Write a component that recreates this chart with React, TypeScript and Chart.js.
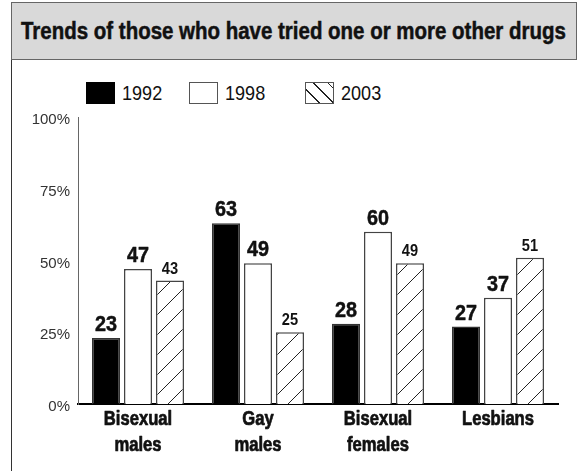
import React, { useEffect, useRef } from 'react';
import { Chart, registerables } from 'chart.js';

Chart.register(...registerables);

const TITLE = 'Trends of those who have tried one or more other drugs';
const categories = [['Bisexual', 'males'], ['Gay', 'males'], ['Bisexual', 'females'], ['Lesbians']];
const seriesNames = ['1992', '1998', '2003'];
const values1992 = [23, 63, 28, 27];
const values1998 = [47, 49, 60, 37];
const values2003 = [43, 25, 49, 51];
const yTicks = [0, 25, 50, 75, 100];

const SANS = '"Liberation Sans", Arial, sans-serif';

function makeHatch(ctx: CanvasRenderingContext2D, size: number) {
  const c = document.createElement('canvas');
  c.width = size;
  c.height = size;
  const g = c.getContext('2d')!;
  g.fillStyle = '#fff';
  g.fillRect(0, 0, size, size);
  g.strokeStyle = '#222';
  g.lineWidth = 1;
  g.beginPath();
  g.moveTo(0, size);
  g.lineTo(size, 0);
  g.moveTo(-2, 2);
  g.lineTo(2, -2);
  g.moveTo(size - 2, size + 2);
  g.lineTo(size + 2, size - 2);
  g.stroke();
  return ctx.createPattern(c, 'repeat');
}

function narrowText(ctx: CanvasRenderingContext2D, text: string, x: number, y: number, sx: number, heavy: number) {
  ctx.save();
  ctx.translate(x, y);
  ctx.scale(sx, 1);
  ctx.fillText(text, 0, 0);
  if (heavy > 0) {
    ctx.lineWidth = heavy;
    ctx.lineJoin = 'round';
    ctx.strokeText(text, 0, 0);
  }
  ctx.restore();
}

const valueLabels = {
  id: 'valueLabels',
  afterDatasetsDraw(chart: any) {
    const { ctx } = chart;
    chart.data.datasets.forEach((ds: any, i: number) => {
      const meta = chart.getDatasetMeta(i);
      const small = i === 2;
      ctx.save();
      ctx.font = `bold ${small ? 17 : 22}px ${SANS}`;
      ctx.fillStyle = '#111';
      ctx.strokeStyle = '#111';
      ctx.textAlign = 'center';
      ctx.textBaseline = 'alphabetic';
      meta.data.forEach((bar: any, j: number) => {
        narrowText(ctx, String(ds.data[j]), bar.x, bar.y - 7, small ? 0.86 : 0.9, small ? 0 : 0.5);
      });
      ctx.restore();
    });
  },
};

const categoryLabels = {
  id: 'categoryLabels',
  afterDraw(chart: any) {
    const { ctx, chartArea } = chart;
    const xs = chart.scales.x;
    ctx.save();
    ctx.font = `bold 20px ${SANS}`;
    ctx.fillStyle = '#111';
    ctx.strokeStyle = '#111';
    ctx.textAlign = 'center';
    ctx.textBaseline = 'alphabetic';
    (chart.data.labels as string[][]).forEach((lines, i) => {
      const x = xs.getPixelForTick(i);
      lines.forEach((ln, k) => {
        narrowText(ctx, ln, x, chartArea.bottom + 21 + k * 26, 0.83, 0.7);
      });
    });
    ctx.restore();
  },
};

export default function App() {
  const canvasRef = useRef<HTMLCanvasElement | null>(null);

  useEffect(() => {
    const canvas = canvasRef.current!;
    const ctx = canvas.getContext('2d')!;
    const hatch = makeHatch(ctx, 20);
    const chart = new Chart(canvas, {
      type: 'bar',
      data: {
        labels: categories,
        datasets: [
          { label: seriesNames[0], data: values1992, backgroundColor: '#000', borderColor: '#333', borderWidth: 1.5 },
          { label: seriesNames[1], data: values1998, backgroundColor: '#fff', borderColor: '#444', borderWidth: 1.5 },
          { label: seriesNames[2], data: values2003, backgroundColor: hatch as any, borderColor: '#444', borderWidth: 1.5 },
        ],
      },
      options: {
        animation: false,
        responsive: false,
        maintainAspectRatio: false,
        datasets: { bar: { categoryPercentage: 0.8, barPercentage: 0.875 } } as any,
        layout: { padding: { top: 16, right: 24, left: 0, bottom: 0 } },
        plugins: { legend: { display: false }, tooltip: { enabled: false }, title: { display: false } },
        scales: {
          x: {
            grid: { display: false, drawTicks: false },
            border: { display: true, color: '#000', width: 2 },
            ticks: { display: false, autoSkip: false },
            afterFit: (s: any) => { s.height = 67; },
          },
          y: {
            min: 0,
            max: 100,
            afterBuildTicks: (s: any) => { s.ticks = yTicks.map((v) => ({ value: v })); },
            ticks: {
              callback: (v: any) => v + '%',
              color: '#333',
              font: { family: SANS, size: 15 },
              padding: 8,
              labelOffset: 3,
            },
            grid: { display: false, drawTicks: false },
            border: { display: true, color: '#666', width: 1 },
            afterFit: (s: any) => { s.width = 66; },
          },
        },
      },
      plugins: [valueLabels, categoryLabels],
    });
    return () => chart.destroy();
  }, []);

  const boxBase: React.CSSProperties = {
    position: 'absolute',
    top: 0,
    width: 29,
    height: 22,
    boxSizing: 'border-box',
    border: '1px solid #555',
  };
  const boxBgs = [
    { background: '#000', border: '1px solid #000' },
    { background: '#fff' },
    { background: 'repeating-linear-gradient(45deg, #fff 0px, #fff 9px, #222 9px, #222 10px)' },
  ];
  const itemLeft = [0, 103, 219];

  return (
    <div style={{ position: 'absolute', left: 0, top: 0, width: 582, height: 471, background: '#fff', overflow: 'hidden' }}>
      <div
        style={{
          position: 'absolute', left: 11, top: 2, width: 566, height: 58, boxSizing: 'border-box',
          background: '#d9d9d9', border: '1px solid #666', display: 'flex', alignItems: 'center',
          paddingLeft: 9, whiteSpace: 'nowrap', overflow: 'hidden',
        }}
      >
        <span
          style={{
            display: 'inline-block', fontFamily: SANS, fontWeight: 'bold', fontSize: 23, color: '#111',
            transform: 'scaleX(0.89)', transformOrigin: 'left center', WebkitTextStroke: '0.5px #111',
          }}
        >
          {TITLE}
        </span>
      </div>
      <div style={{ position: 'absolute', left: 11, top: 60, width: 1, height: 411, background: '#333' }} />
      <div style={{ position: 'absolute', left: 86, top: 82, height: 22, width: 320 }}>
        {seriesNames.map((n, i) => (
          <React.Fragment key={n}>
            <div style={{ ...boxBase, left: itemLeft[i], ...boxBgs[i] }} />
            <span
              style={{
                position: 'absolute', left: itemLeft[i] + 36, top: 0, lineHeight: '22px', fontFamily: SANS,
                fontSize: 21, color: '#111', transform: 'scaleX(0.86)', transformOrigin: 'left center', whiteSpace: 'nowrap',
              }}
            >
              {n}
            </span>
          </React.Fragment>
        ))}
      </div>
      <canvas ref={canvasRef} width={570} height={371} style={{ position: 'absolute', left: 12, top: 100, width: 570, height: 371 }} />
    </div>
  );
}
